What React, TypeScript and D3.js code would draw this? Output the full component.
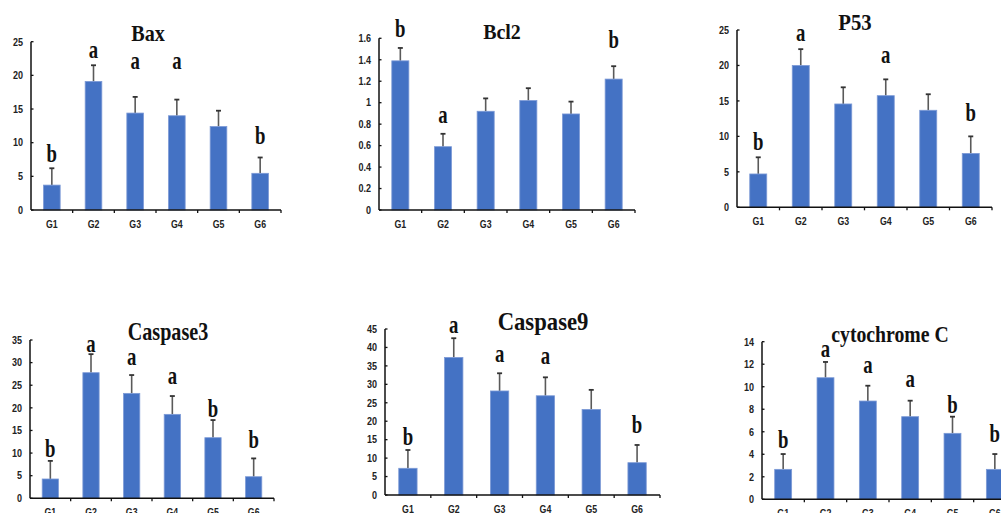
import React from "react";
import * as d3 from "d3";

const groups = ["G1", "G2", "G3", "G4", "G5", "G6"];

const baxMean = [3.7, 19.1, 14.4, 14.0, 12.4, 5.45];
const baxErr = [2.5, 2.4, 2.4, 2.4, 2.35, 2.35];
const baxLetters = ["b", "a", "a", "a", "", "b"];
const baxLetterAt = [7.1, 22.6, 21.0, 21.0, 0, 9.8];
const baxTicks = [0, 5, 10, 15, 20, 25];

const bcl2Mean = [1.39, 0.59, 0.92, 1.02, 0.895, 1.22];
const bcl2Err = [0.12, 0.12, 0.12, 0.115, 0.115, 0.12];
const bcl2Letters = ["b", "a", "", "", "", "b"];
const bcl2LetterAt = [1.615, 0.81, 0, 0, 0, 1.51];
const bcl2Ticks = [0, 0.2, 0.4, 0.6, 0.8, 1, 1.2, 1.4, 1.6];

const p53Mean = [4.7, 20.0, 14.57, 15.74, 13.68, 7.6];
const p53Err = [2.35, 2.3, 2.35, 2.3, 2.26, 2.4];
const p53Letters = ["b", "a", "", "a", "", "b"];
const p53LetterAt = [8.08, 23.4, 0, 20.4, 0, 12.1];
const p53Ticks = [0, 5, 10, 15, 20, 25];

const casp3Mean = [4.27, 27.77, 23.2, 18.56, 13.4, 4.77];
const casp3Err = [4.0, 4.1, 4.05, 4.05, 3.9, 4.05];
const casp3Letters = ["b", "a", "a", "a", "b", "b"];
const casp3LetterAt = [9.2, 32.4, 29.5, 25.3, 18.0, 11.05];
const casp3Ticks = [0, 5, 10, 15, 20, 25, 30, 35];

const casp9Mean = [7.24, 37.3, 28.2, 26.9, 23.2, 8.76];
const casp9Err = [4.96, 5.2, 4.8, 5.0, 5.3, 4.8];
const casp9Letters = ["b", "a", "a", "a", "", "b"];
const casp9LetterAt = [13.55, 43.8, 36.1, 35.5, 0, 16.7];
const casp9Ticks = [0, 5, 10, 15, 20, 25, 30, 35, 40, 45];

const cytoMean = [2.66, 10.8, 8.73, 7.34, 5.86, 2.66];
const cytoErr = [1.36, 1.4, 1.36, 1.42, 1.48, 1.36];
const cytoLetters = ["b", "a", "a", "a", "b", "b"];
const cytoLetterAt = [4.53, 12.67, 11.24, 10.0, 7.69, 5.12];
const cytoTicks = [0, 2, 4, 6, 8, 10, 12, 14];

type Panel = {
  title: string;
  mean: number[];
  err: number[];
  letters: string[];
  letterAt: number[];
  ticks: number[];
  // layout
  x0: number;
  x1: number;
  y0: number;
  yTop: number;
  titleX: number;
  titleY: number;
  titleSize: number;
  titleScale: number;
};

const panels: Panel[] = [
  { title: "Bax", mean: baxMean, err: baxErr, letters: baxLetters, letterAt: baxLetterAt, ticks: baxTicks,
    x0: 31, x1: 281, y0: 210, yTop: 41.7, titleX: 148, titleY: 41, titleSize: 24, titleScale: 0.84 },
  { title: "Bcl2", mean: bcl2Mean, err: bcl2Err, letters: bcl2Letters, letterAt: bcl2LetterAt, ticks: bcl2Ticks,
    x0: 379, x1: 635, y0: 210, yTop: 38.3, titleX: 502, titleY: 39, titleSize: 21, titleScale: 0.95 },
  { title: "P53", mean: p53Mean, err: p53Err, letters: p53Letters, letterAt: p53LetterAt, ticks: p53Ticks,
    x0: 737, x1: 992, y0: 207.3, yTop: 30, titleX: 855, titleY: 30, titleSize: 23, titleScale: 0.9 },
  { title: "Caspase3", mean: casp3Mean, err: casp3Err, letters: casp3Letters, letterAt: casp3LetterAt, ticks: casp3Ticks,
    x0: 30, x1: 274, y0: 498.3, yTop: 340, titleX: 168, titleY: 340, titleSize: 25.5, titleScale: 0.79 },
  { title: "Caspase9", mean: casp9Mean, err: casp9Err, letters: casp9Letters, letterAt: casp9LetterAt, ticks: casp9Ticks,
    x0: 385, x1: 660, y0: 495, yTop: 329, titleX: 543, titleY: 330, titleSize: 25.5, titleScale: 0.89 },
  { title: "cytochrome C", mean: cytoMean, err: cytoErr, letters: cytoLetters, letterAt: cytoLetterAt, ticks: cytoTicks,
    x0: 762, x1: 1016, y0: 499.3, yTop: 341.7, titleX: 890, titleY: 342, titleSize: 22.7, titleScale: 0.87 },
];

const SERIF = "'Liberation Serif', 'DejaVu Serif', serif";
const SANS = "'Liberation Sans', Arial, sans-serif";

function ChartPanel({ p }: { p: Panel }) {
  const x = d3.scaleBand<string>().domain(groups).range([p.x0, p.x1]).paddingInner(0.6).paddingOuter(0.3);
  const yMax = p.ticks[p.ticks.length - 1];
  const y = d3.scaleLinear().domain([0, yMax]).range([p.y0, p.yTop]);
  const step = x.step();
  const bw = x.bandwidth();
  const fmt = (v: number) => String(Math.round(v * 10) / 10);
  return (
    <g>
      <text
        transform={`translate(${p.titleX},${p.titleY}) scale(${p.titleScale},1)`}
        textAnchor="middle"
        fontFamily={SERIF}
        fontWeight="bold"
        fontSize={p.titleSize}
        fill="#111"
      >
        {p.title}
      </text>
      {groups.map((g, i) => {
        const cx = (x(g) as number) + bw / 2;
        const top = y(p.mean[i]);
        const etop = y(p.mean[i] + p.err[i]);
        return (
          <g key={g}>
            <line x1={cx} x2={cx} y1={top} y2={etop} stroke="#5a5a5a" strokeWidth={1.6} />
            <line x1={cx - 2.5} x2={cx + 2.5} y1={etop} y2={etop} stroke="#333" strokeWidth={1.8} />
            <rect x={x(g)} y={top} width={bw} height={p.y0 - top} fill="#4472C4" stroke="#7d9ad6" strokeWidth={0.8} />
            {p.letters[i] ? (
              <text
                transform={`translate(${cx},${y(p.letterAt[i])}) scale(0.75,1)`}
                textAnchor="middle"
                fontFamily={SERIF}
                fontWeight="bold"
                fontSize={25}
                fill="#111"
              >
                {p.letters[i]}
              </text>
            ) : null}
            <text
              transform={`translate(${cx},${p.y0 + 17.5}) scale(0.88,1)`}
              textAnchor="middle"
              fontFamily={SANS}
              fontWeight="bold"
              fontSize={10}
              fill="#222"
            >
              {g}
            </text>
          </g>
        );
      })}
      {/* y axis */}
      <line x1={p.x0} x2={p.x0} y1={p.y0} y2={p.yTop} stroke="#111" strokeWidth={1.5} />
      {p.ticks.map((t) => (
        <g key={t}>
          <line x1={p.x0} x2={p.x0 + 2.5} y1={y(t)} y2={y(t)} stroke="#111" strokeWidth={1.3} />
          <text
            transform={`translate(${p.x0 - 8},${y(t) + 3.8}) scale(0.82,1)`}
            textAnchor="end"
            fontFamily={SANS}
            fontWeight="bold"
            fontSize={11}
            fill="#222"
          >
            {fmt(t)}
          </text>
        </g>
      ))}
      {/* x axis */}
      <line x1={p.x0} x2={p.x1} y1={p.y0} y2={p.y0} stroke="#111" strokeWidth={1.6} />
      {groups.map((g, i) => (
        <line key={"t" + g} x1={p.x0 + step * (i + 1)} x2={p.x0 + step * (i + 1)} y1={p.y0} y2={p.y0 + 3} stroke="#111" strokeWidth={1.3} />
      ))}
    </g>
  );
}

export default function App() {
  return (
    <svg
      width={1001}
      height={513}
      style={{ position: "absolute", left: 0, top: 0, background: "#fff" }}
    >
      <rect width={1001} height={513} fill="#fff" />
      {panels.map((p) => (
        <ChartPanel key={p.title} p={p} />
      ))}
    </svg>
  );
}
